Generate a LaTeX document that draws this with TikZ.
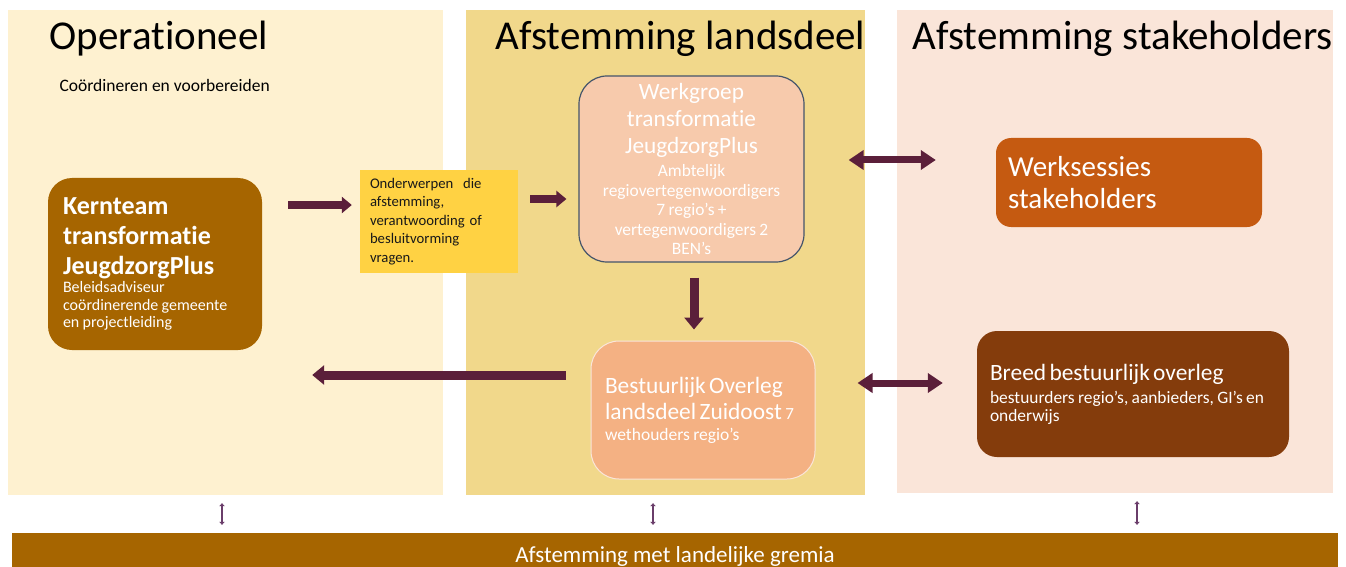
\documentclass[tikz,border=0pt]{standalone}
\usepackage{fontspec}
\setmainfont{Carlito}[Ligatures={NoCommon}]
\usepackage{xcolor}
\usetikzlibrary{arrows.meta}

\definecolor{vlakgeel}{HTML}{FEF1D0}
\definecolor{vlakzand}{HTML}{F1D88B}
\definecolor{vlakroze}{HTML}{FAE5D9}
\definecolor{okerbruin}{HTML}{A66500}
\definecolor{notegeel}{HTML}{FFD243}
\definecolor{perzik}{HTML}{F7CAAC}
\definecolor{zalm}{HTML}{F4B183}
\definecolor{oranje}{HTML}{C55A11}
\definecolor{roodbruin}{HTML}{843C0C}
\definecolor{randgrijs}{HTML}{44546A}
\definecolor{pijlrood}{HTML}{5B1F3A}
\definecolor{paars}{HTML}{6A3D6A}

\begin{document}
\begin{tikzpicture}[x=1pt, y=1pt,
    vlak/.style={inner sep=0pt, minimum height=485pt},
    kop/.style={anchor=base west, font=\fontsize{41}{45}\selectfont},
    vak/.style={rounded corners=#1, inner ysep=0pt, align=left, text=white},
    vak/.default=22pt,
    pijl/.style={draw=pijlrood, line width=8pt, -{Triangle[length=10pt,width=16pt]}},
    dikpijl/.style={draw=pijlrood, line width=9pt, -{Triangle[length=12pt,width=19pt]}},
    dubbel/.style={draw=pijlrood, line width=7pt, {Triangle[length=15pt,width=19pt]}-{Triangle[length=15pt,width=19pt]}},
    klein/.style={draw=paars, line width=2.8pt, {Triangle[length=3pt,width=5.5pt]}-{Triangle[length=3pt,width=5.5pt]}}
]
    \useasboundingbox (0,0) rectangle (1346,566);
    % drie kolommen
    \node[vlak, fill=vlakgeel, minimum width=435pt] (p1) at (225.5,313.5) {};
    \node[vlak, fill=vlakzand, minimum width=399pt] (p2) at (665.5,313.5) {};
    \node[vlak, fill=vlakroze, minimum width=436pt, minimum height=483pt] (p3) at (1115,314.5) {};
    \node[kop] (kop1) at (46,516) {Operationeel};
    \node[kop] (kop2) at (492,516) {Afstemming landsdeel};
    \node[kop] (kop3) at (909,516) {Afstemming stakeholders};
    \node[anchor=base west, font=\fontsize{17.5}{20}\selectfont] (sub1) at (56,474) {Coördineren en voorbereiden};

    % blokken
    \node[vak=24pt, fill=okerbruin, inner xsep=15pt, text width=184pt, minimum height=172pt] (kern) at (155,302)
        {{\fontsize{26}{30}\selectfont\bfseries Kernteam\\ transformatie\\ JeugdzorgPlus\par}
         \vspace{1pt}{\fontsize{16}{17.5}\selectfont Beleidsadviseur\\ coördinerende gemeente\\ en projectleiding\par}};
    \node[fill=notegeel, inner xsep=10pt, inner ysep=0pt, text width=138pt, minimum height=103pt, align=left,
        text=black!90, font=\fontsize{14.7}{18.5}\selectfont] (geel) at (439,344.5)
        {Onderwerpen~ die\\ afstemming,\\ verantwoording of\\ besluitvorming\\ vragen.};
    \node[vak=28pt, fill=perzik, draw=randgrijs, line width=1.2pt, inner xsep=6pt, text width=213pt,
        minimum height=186pt, align=center] (wg) at (691.5,397)
        {{\fontsize{23.3}{27}\selectfont Werkgroep\\ transformatie\\ JeugdzorgPlus\par}
         \vspace{4pt}{\fontsize{17.4}{19.5}\selectfont Ambtelijk\\ regiovertegenwoordigers\\ 7 regio’s +\\ vertegenwoordigers 2\\ BEN’s\par}};
    \node[vak=28pt, fill=zalm, draw=vlakroze, line width=1pt, inner xsep=14pt, text width=196pt,
        minimum height=138pt] (bw) at (703,156)
        {{\fontsize{23.4}{26}\selectfont Bestuurlijk Overleg\\ \mbox{landsdeel Zuidoost {\fontsize{17}{18}\selectfont 7}}\par}
         \vspace{3pt}{\fontsize{17.5}{18}\selectfont wethouders regio’s\par}};
    \node[vak=15pt, fill=oranje, inner xsep=12pt, text width=242pt, minimum height=89pt,
        font=\fontsize{29}{32}\selectfont] (ws) at (1129,383.5) {Werksessies\\ stakeholders};
    \node[vak=20pt, fill=roodbruin, inner xsep=13pt, text width=286pt, minimum height=126pt] (breed) at (1133,172)
        {{\fontsize{23.4}{24}\selectfont Breed bestuurlijk overleg\par}
         \vspace{5pt}{\fontsize{17.4}{18}\selectfont bestuurders regio’s, aanbieders, GI’s en\\ onderwijs\par}};
    \node[fill=okerbruin, inner sep=0pt, minimum width=1326pt, minimum height=46pt, text=white,
        font=\fontsize{23}{26}\selectfont] (balk) at (675,10) {Afstemming met landelijke gremia};

    % pijlen
    \draw[pijl, shorten <=26pt, shorten >=8pt] ([yshift=59pt]kern.east) -- ([yshift=16.5pt]geel.west);
    \draw[pijl, shorten <=12pt, shorten >=12pt] ([yshift=22.5pt]geel.east) -- ([yshift=-30pt]wg.west);
    \draw[dikpijl, shorten <=15pt, shorten >=11pt] ([xshift=2.5pt]wg.south) -- ([xshift=-9pt]bw.north);
    \draw[dikpijl, shorten <=25pt, shorten >=50pt] ([yshift=35pt]bw.west) -- ([yshift=-111pt]kern.east);
    \draw[dubbel, shorten <=44pt, shorten >=60pt] ([yshift=9pt]wg.east) -- ([yshift=22.5pt]ws.west);
    \draw[dubbel, shorten <=42pt, shorten >=34pt] ([yshift=27pt]bw.east) -- ([yshift=11pt]breed.west);
    \foreach \v/\dx/\bx in {p1/-3.5/-453, p2/-12.5/-22, p3/22/462}
        \draw[klein, shorten <=8pt, shorten >=8pt] ([xshift=\dx pt]\v.south) -- ([xshift=\bx pt]balk.north);
\end{tikzpicture}
\end{document}
